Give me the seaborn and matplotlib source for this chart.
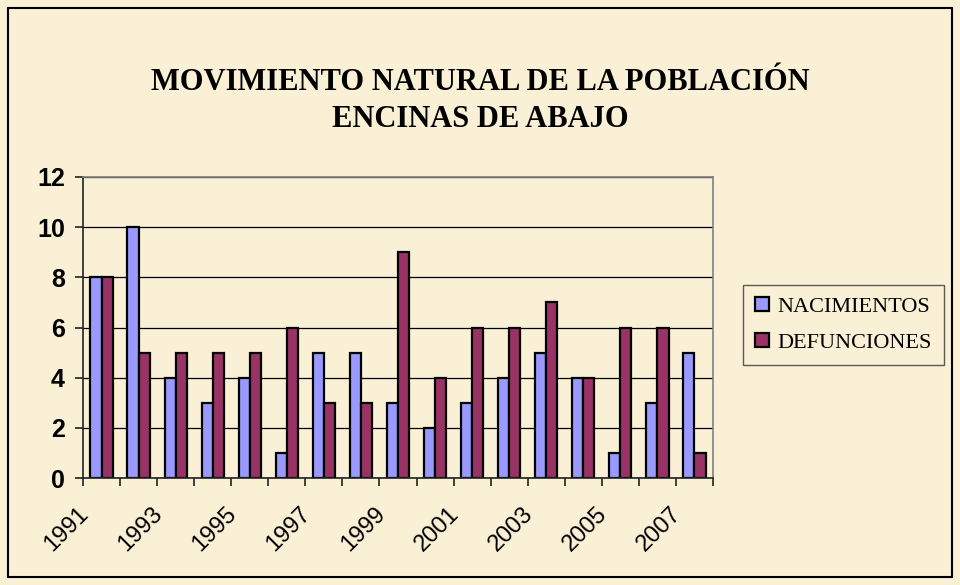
import matplotlib
matplotlib.use("Agg")
import matplotlib.pyplot as plt
import matplotlib.patches as mpatches
from matplotlib.transforms import ScaledTranslation
import numpy as np
import pandas as pd
import seaborn as sns

years = ["1991", "1992", "1993", "1994", "1995", "1996", "1997", "1998", "1999",
         "2000", "2001", "2002", "2003", "2004", "2005", "2006", "2007"]
nacimientos = [8, 10, 4, 3, 4, 1, 5, 5, 3, 2, 3, 4, 5, 4, 1, 3, 5]
defunciones = [8, 5, 5, 5, 5, 6, 3, 3, 9, 4, 6, 6, 7, 4, 6, 6, 1]
series = ["NACIMIENTOS", "DEFUNCIONES"]
colors = ["#9999FF", "#993366"]

df = pd.DataFrame({
    "year": years * 2,
    "value": nacimientos + defunciones,
    "serie": [series[0]] * len(years) + [series[1]] * len(years),
})

bg = "#FAF0D6"
sns.set_style("white")
plt.rcParams["font.family"] = ["Liberation Sans", "DejaVu Sans"]
plt.rcParams["text.color"] = "black"
plt.rcParams["xtick.color"] = "black"
plt.rcParams["ytick.color"] = "black"

fig = plt.figure(figsize=(9.6, 5.85), dpi=100, facecolor=bg)
ax = fig.add_axes([83 / 960, 1 - 478 / 585, 630 / 960, 301 / 585])
ax.set_facecolor("none")

sns.barplot(data=df, x="year", y="value", hue="serie", order=years,
            hue_order=series, palette=colors, width=0.6, gap=0,
            edgecolor="black", linewidth=1.6, saturation=1, ax=ax)

handles, labels = ax.get_legend_handles_labels()
ax.get_legend().remove()

ax.set_xlim(-0.5, len(years) - 0.5)
ax.set_ylim(0, 12)
ax.set_yticks(range(0, 13, 2))
ax.yaxis.grid(True, color="black", linewidth=0.9)
ax.set_axisbelow(True)
for side in ["top", "right"]:
    ax.spines[side].set_visible(True)
    ax.spines[side].set_color("#808080")
    ax.spines[side].set_linewidth(1.2)
for side in ["left", "bottom"]:
    ax.spines[side].set_color("#222222")
    ax.spines[side].set_linewidth(1.2)

ax.set_xlabel("")
ax.set_ylabel("")
ax.tick_params(axis="y", direction="out", length=6, width=1.2, color="#222222",
               labelsize=18, pad=7, left=True)
for t in ax.get_yticklabels():
    t.set_fontweight("bold")

# labels every other year, tick marks on category boundaries
ax.set_xticks(range(0, len(years), 2))
ax.set_xticklabels(years[::2], rotation=45, ha="right", va="top",
                   rotation_mode="anchor", fontsize=17)
ax.tick_params(axis="x", which="major", length=0, pad=18)
ax.set_xticks(np.arange(-0.5, len(years), 1), minor=True)
ax.tick_params(axis="x", which="minor", direction="out", length=6, width=1.2,
               color="#222222", bottom=True)
offset = ScaledTranslation(-24 / 100, 0, fig.dpi_scale_trans)
for t in ax.get_xticklabels():
    t.set_transform(t.get_transform() + offset)

fig.text(0.5, 1 - 101 / 585, "MOVIMIENTO NATURAL DE LA POBLACIÓN\nENCINAS DE ABAJO",
         ha="center", va="center", fontsize=22, fontweight="bold", color="black",
         family=["Liberation Serif", "DejaVu Serif"], linespacing=1.38)

leg = fig.legend(handles, labels, loc="center left",
                 bbox_to_anchor=(743 / 960, 1 - 325 / 585),
                 prop={"family": ["Liberation Serif", "DejaVu Serif"], "size": 16},
                 frameon=True, fancybox=False, edgecolor="#333333",
                 facecolor="none", handlelength=0.6, handleheight=0.6,
                 handletextpad=0.4, borderpad=0.55, labelspacing=0.7,
                 borderaxespad=0)
leg.get_frame().set_linewidth(1.0)

fig.patches.append(mpatches.Rectangle((8 / 960, 8 / 585), 944 / 960, 569 / 585,
                                      transform=fig.transFigure, fill=False,
                                      edgecolor="black", linewidth=1.5))

fig.savefig("out.png", dpi=100, facecolor=bg)
